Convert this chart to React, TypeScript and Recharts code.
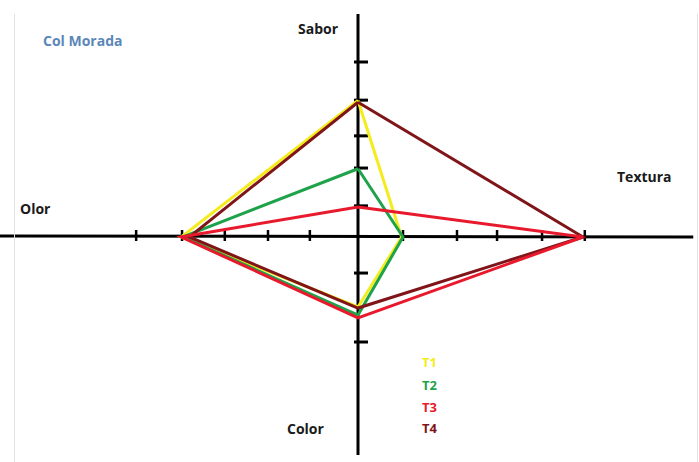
import React from "react";
import { ScatterChart, Scatter, XAxis, YAxis, ReferenceLine } from "recharts";

// axis order: Sabor (up), Textura (right), Color (down), Olor (left)
const attributes = ["Sabor", "Textura", "Color", "Olor"];
const seriesNames = ["T1", "T2", "T3", "T4"];
const seriesColors = ["#f4ec1c", "#1ea24a", "#e8192c", "#7f1518"];

const saborValues = [3.9, 1.95, 0.86, 3.85];
const texturaValues = [0.97, 1.0, 5.0, 5.0];
const colorValues = [2.0, 2.23, 2.31, 2.03];
const olorValues = [3.93, 3.9, 3.93, 3.75];

const xTicks = [-4.93, -3.91, -2.96, -2.0, -1.07, 1.0, 2.2, 3.09, 4.09, 5.04];
const yTicks = [5.0, 3.91, 2.89, 1.97, 0.89, -1.03, -3.0];

const W = 699;
const H = 462;
const X0 = 358;
const Y0 = 237;
const UX = 45;
const UY = 35;
const xDomain = [-X0 / UX, (W - X0) / UX];
const yDomain = [-(H - Y0) / UY, Y0 / UY];

const polygon = (i: number) => [
  { x: 0, y: saborValues[i] },
  { x: texturaValues[i], y: 0 },
  { x: 0, y: -colorValues[i] },
  { x: -olorValues[i], y: 0 },
  { x: 0, y: saborValues[i] },
];

const xTickData = xTicks.map((x) => ({ x, y: 0 }));
const yTickData = yTicks.map((y) => ({ x: 0, y }));

const VTick = (p: any) => (
  <line x1={p.cx} x2={p.cx} y1={p.cy - 7} y2={p.cy + 4} stroke="#000" strokeWidth={2.5} />
);
const HTick = (p: any) => (
  <line x1={p.cx - 4} x2={p.cx + 10} y1={p.cy} y2={p.cy} stroke="#000" strokeWidth={3} />
);
const NoShape = () => null;

const font = "'Open Sans', 'Liberation Sans', sans-serif";
const lbl = (text: string, left: number, top: number, color = "#1a1a1a", size = 14) => (
  <div
    key={text}
    style={{
      position: "absolute",
      left,
      top,
      color,
      fontFamily: font,
      fontWeight: 700,
      fontSize: size,
      lineHeight: 1,
      whiteSpace: "nowrap",
    }}
  >
    {text}
  </div>
);

const order = [0, 1, 3, 2];

export default function App() {
  return (
    <div style={{ position: "absolute", left: 0, top: 0, width: W, height: H, background: "#fff" }}>
      <ScatterChart width={W} height={H} margin={{ top: 0, right: 0, bottom: 0, left: 0 }}>
        <XAxis type="number" dataKey="x" domain={xDomain} hide allowDataOverflow />
        <YAxis type="number" dataKey="y" domain={yDomain} hide allowDataOverflow />
        <ReferenceLine
          segment={[{ x: xDomain[0], y: 0.03 }, { x: 7.45, y: 0 }]}
          stroke="#000"
          strokeWidth={3}
        />
        <ReferenceLine
          segment={[{ x: 0, y: 6.37 }, { x: 0, y: -6.23 }]}
          stroke="#000"
          strokeWidth={3}
        />
        <Scatter data={xTickData} shape={VTick} isAnimationActive={false} />
        <Scatter data={yTickData} shape={HTick} isAnimationActive={false} />
        {order.map((i) => (
          <Scatter
            key={seriesNames[i]}
            name={seriesNames[i]}
            data={polygon(i)}
            line={{ stroke: seriesColors[i], strokeWidth: 3 }}
            lineType="joint"
            shape={NoShape}
            isAnimationActive={false}
          />
        ))}
      </ScatterChart>
      <div style={{ position: "absolute", left: 14, top: 14, width: 1, height: 448, background: "#e2e2e2" }} />
      <div style={{ position: "absolute", left: 697, top: 14, width: 1, height: 448, background: "#e2e2e2" }} />
      {lbl("Col Morada", 43, 34, "#5b87b8", 14)}
      {lbl(attributes[0], 298, 22)}
      {lbl(attributes[1], 617, 170)}
      {lbl(attributes[3], 20, 202)}
      {lbl(attributes[2], 287, 422)}
      {seriesNames.map((n, i) => lbl(n, 422, [356, 379, 401, 422][i], seriesColors[i], 13))}
    </div>
  );
}
